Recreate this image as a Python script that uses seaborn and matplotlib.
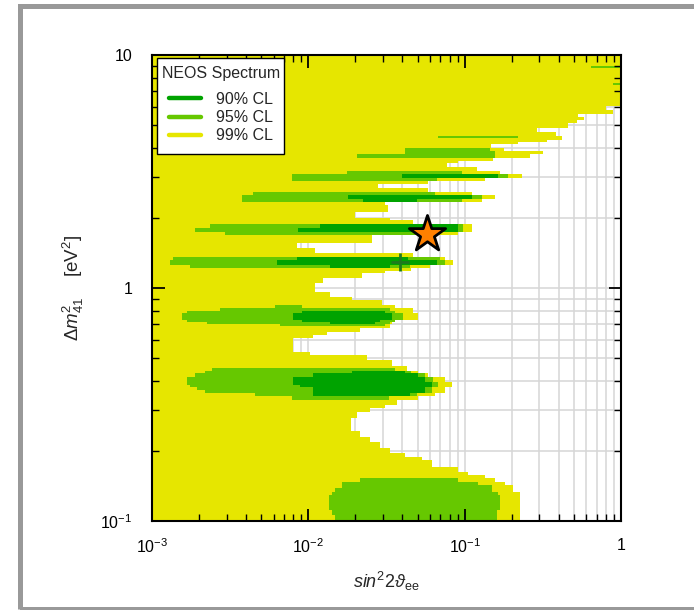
import numpy as np
import matplotlib
matplotlib.use("Agg")
import matplotlib.pyplot as plt
import seaborn as sns
import pandas as pd
from matplotlib.colors import ListedColormap
from matplotlib.lines import Line2D
from matplotlib.patches import Rectangle
from matplotlib.ticker import NullFormatter, LogLocator

sns.set_style("ticks")
plt.rcParams['font.family'] = ['Liberation Sans', 'DejaVu Sans']
plt.rcParams['mathtext.fontset'] = 'custom'
plt.rcParams['mathtext.rm'] = 'Liberation Sans'
plt.rcParams['mathtext.it'] = 'Liberation Sans:italic'
plt.rcParams['mathtext.bf'] = 'Liberation Sans:bold'
plt.rcParams['mathtext.fallback'] = 'stixsans'

# ---------------- data (log10 units) ----------------
# row edges in log10(dm2_41 / eV^2), from top (10 eV^2) to bottom (0.1 eV^2)
log_dm2_edges = [
    1.000, 0.953, 0.944, 0.880, 0.871, 0.781, 0.764, 0.747, 0.734, 0.721,
    0.708, 0.687, 0.670, 0.652, 0.644, 0.635, 0.627, 0.618, 0.601, 0.588,
    0.575, 0.558, 0.545, 0.536, 0.519, 0.502, 0.489, 0.472, 0.459, 0.446,
    0.429, 0.412, 0.399, 0.382, 0.369, 0.356, 0.326, 0.300, 0.292, 0.275,
    0.258, 0.240, 0.227, 0.193, 0.172, 0.150, 0.133, 0.120, 0.099, 0.086,
    0.073, 0.064, 0.043, 0.021, -0.017, -0.039, -0.052, -0.073, -0.086, -0.099,
    -0.107, -0.137, -0.146, -0.155, -0.163, -0.172, -0.189, -0.202, -0.215, -0.275,
    -0.288, -0.309, -0.335, -0.343, -0.356, -0.365, -0.382, -0.403, -0.416, -0.425,
    -0.438, -0.451, -0.464, -0.481, -0.502, -0.515, -0.532, -0.558, -0.614, -0.640,
    -0.661, -0.687, -0.708, -0.725, -0.738, -0.768, -0.790, -0.803, -0.815, -0.833,
    -0.846, -0.858, -0.876, -0.888, -0.953, -0.974, -1.000]

# 99% CL: allowed from the left edge up to this log10(sin^2 2theta) per row
cl99_right = [
    0.000, 0.000, 0.000, 0.000, 0.000, -0.096, -0.051, -0.275, -0.237, -0.281,
    -0.339, -0.537, -0.416, -0.377, -0.377, -0.473, -0.659, -0.831, -0.748, -0.499,
    -0.582, -0.819, -1.042, -1.113, -0.921, -0.774, -0.633, -0.870, -1.234, -1.554,
    -1.234, -0.953, -0.806, -0.889, -1.509, -1.490, -1.701, -1.477, -1.330, -0.953,
    -0.953, -1.042, -1.593, -2.072, -1.957, -1.330, -1.126, -1.074, -1.222, -1.343,
    -1.509, -1.657, -1.906, -1.957, -1.861, -1.721, -1.529, -1.446, -1.330, -1.330,
    -1.298, -1.465, -1.465, -1.477, -1.477, -1.669, -1.881, -1.970, -2.098, -1.989,
    -1.625, -1.465, -1.369, -1.369, -1.298, -1.234, -1.126, -1.081, -1.081, -1.126,
    -1.126, -1.190, -1.298, -1.433, -1.509, -1.605, -1.689, -1.727, -1.669, -1.605,
    -1.541, -1.477, -1.382, -1.273, -1.209, -1.042, -0.979, -0.870, -0.806, -0.742,
    -0.691, -0.691, -0.646, -0.646, -0.646, -0.646]

# 95% CL islands: row index, left, right (log10 sin^2 2theta)
cl95_rows = [1, 3, 13, 18, 19, 20, 25, 26, 27, 31, 32, 33, 39, 40, 41, 46, 47, 48,
             57, 58, 59, 60, 61, 62, 63, 73, 74, 75, 76, 77, 78, 79, 80, 81, 82,
             98, 99, 100, 101, 102, 103, 104, 105]
cl95_left = [-0.192, -0.051, -1.170, -1.382, -1.382, -1.689, -1.753, -2.104, -2.104,
             -2.354, -2.424, -2.424, -2.629, -2.725, -2.533, -2.866, -2.885, -2.757,
             -2.213, -2.565, -2.776, -2.808, -2.776, -2.648, -2.181,
             -2.616, -2.661, -2.725, -2.776, -2.776, -2.757, -2.712, -2.661, -2.341, -2.104,
             -1.669, -1.785, -1.785, -1.829, -1.849, -1.868, -1.849, -1.829]
cl95_right = [0.000, 0.000, -0.659, -0.838, -0.806, -0.806, -1.017, -0.723, -1.177,
              -1.190, -0.889, -1.017, -1.011, -1.011, -1.222, -1.158, -1.126, -1.350,
              -2.040, -1.477, -1.446, -1.394, -1.446, -1.477, -1.509,
              -1.446, -1.343, -1.254, -1.202, -1.170, -1.170, -1.209, -1.209, -1.305, -1.484,
              -1.042, -0.915, -0.825, -0.825, -0.787, -0.774, -0.793, -0.793]

# 90% CL islands
cl90_rows = [26, 32, 33, 39, 40, 46, 47, 48, 59, 60, 61, 62, 74, 75, 76, 77, 78, 79, 80, 81]
cl90_left = [-1.401, -1.746, -1.650, -1.925, -2.066, -2.072, -2.200, -1.861,
             -2.040, -2.098, -2.040, -1.861,
             -1.721, -1.970, -2.098, -2.098, -2.053, -1.970, -1.970, -1.970]
cl90_right = [-0.787, -0.953, -1.305, -1.042, -1.042, -1.362, -1.177, -1.477,
              -1.509, -1.465, -1.541, -1.573,
              -1.382, -1.298, -1.254, -1.209, -1.209, -1.254, -1.254, -1.350]

best_fit = pd.DataFrame({"s2t": [0.057], "dm2": [1.70]})
local_min = pd.DataFrame({"s2t": [0.0385], "dm2": [1.29]})

legend_title = "NEOS Spectrum"
legend_labels = ["90% CL", "95% CL", "99% CL"]
colors = {"99": "#E6E600", "95": "#66C800", "90": "#00A300"}

# ---------------- build the CL map ----------------
edges = np.array(log_dm2_edges)
xe = np.linspace(-3.0, 0.0, 1201)
xc = 0.5 * (xe[1:] + xe[:-1])
Z = np.zeros((len(edges) - 1, len(xc)))
for i, r in enumerate(cl99_right):
    Z[i, xc <= r] = 1
for i, l, r in zip(cl95_rows, cl95_left, cl95_right):
    Z[i, (xc >= l) & (xc <= r)] = 2
for i, l, r in zip(cl90_rows, cl90_left, cl90_right):
    Z[i, (xc >= l) & (xc <= r)] = 3
Zm = np.ma.masked_equal(Z, 0)

fig = plt.figure(figsize=(6.94, 6.10), dpi=100)
ax = fig.add_axes([152 / 694, 1 - 521 / 610, 469 / 694, 466 / 610])

ax.set_xscale("log")
ax.set_yscale("log")
ax.set_xlim(1e-3, 1)
ax.set_ylim(0.1, 10)
ax.set_xticks([1e-3, 1e-2, 1e-1, 1])
ax.set_xticklabels([r"$10^{-3}$", r"$10^{-2}$", r"$10^{-1}$", "1"])
ax.set_yticks([0.1, 1, 10])
ax.set_yticklabels([r"$10^{-1}$", "1", "10"])
ax.xaxis.set_minor_locator(LogLocator(base=10, subs=np.arange(2, 10)))
ax.yaxis.set_minor_locator(LogLocator(base=10, subs=np.arange(2, 10)))
ax.xaxis.set_minor_formatter(NullFormatter())
ax.yaxis.set_minor_formatter(NullFormatter())
ax.set_axisbelow(False)

# grid lines drawn beneath the CL map, ticks stay on top
xg = [t for t in list(ax.xaxis.get_majorticklocs()) + list(ax.xaxis.get_minorticklocs())
      if 1e-3 < t < 1]
yg = [t for t in list(ax.yaxis.get_majorticklocs()) + list(ax.yaxis.get_minorticklocs())
      if 0.1 < t < 10]
ax.vlines(xg, 0.1, 10, colors="#d6d6d6", linewidth=1.1, zorder=0.5)
ax.hlines(yg, 1e-3, 1, colors="#d6d6d6", linewidth=1.1, zorder=0.5)

cmap = ListedColormap([colors["99"], colors["95"], colors["90"]])
ax.pcolormesh(10 ** xe, 10 ** edges, Zm, cmap=cmap, vmin=0.5, vmax=3.5,
              shading="flat", antialiased=False, edgecolors="none", zorder=1)

sns.scatterplot(data=local_min, x="s2t", y="dm2", marker="+", s=170,
                color="#1f7a1f", linewidth=2.0, ax=ax, zorder=4, legend=False)
sns.scatterplot(data=best_fit, x="s2t", y="dm2", marker="*", s=750,
                color="#FF8000", edgecolor="black", linewidth=2.0, ax=ax,
                zorder=5, legend=False)

ax.set_xlim(1e-3, 1)
ax.set_ylim(0.1, 10)
ax.tick_params(which="both", direction="in", top=True, right=True, colors="black")
ax.tick_params(which="major", length=9, width=1.3, labelsize=11.5)
ax.tick_params(axis="x", which="major", pad=12)
ax.tick_params(axis="y", which="major", pad=14)
ax.tick_params(which="minor", length=5, width=1.0)
for s in ax.spines.values():
    s.set_linewidth(1.5)
    s.set_color("black")
    s.set_zorder(6)

ax.set_xlabel(r"$\mathit{sin}^{2}\mathrm{2}\vartheta_{\mathrm{ee}}$", fontsize=13, labelpad=10)
ax.set_ylabel(r"$\Delta \mathit{m}^{2}_{41}$    [eV$^{2}$]", fontsize=13.5, labelpad=10)

handles = [Line2D([0], [0], color=colors["90"], lw=3.2, solid_capstyle="round"),
           Line2D([0], [0], color=colors["95"], lw=3.2, solid_capstyle="round"),
           Line2D([0], [0], color=colors["99"], lw=3.2, solid_capstyle="round")]
leg = ax.legend(handles, legend_labels, title=legend_title, loc="upper left",
                bbox_to_anchor=(5 / 469, 1 - 6 / 466), borderaxespad=0,
                fontsize=11.5, title_fontsize=11.5, frameon=False,
                borderpad=0.3, labelspacing=0.2,
                handlelength=2.0, handletextpad=0.9)
leg._legend_box.sep = 8
leg.set_zorder(10)

# legend frame with a little extra room at the bottom, as in the original
fig.canvas.draw()
bb = leg.get_window_extent()
inv = fig.transFigure.inverted()
(fx0, fy0) = inv.transform((bb.x0, bb.y0 - 6))
(fx1, fy1) = inv.transform((bb.x1 - 1, bb.y1 + 3))
ax.add_patch(Rectangle((fx0, fy0), fx1 - fx0, fy1 - fy0, transform=fig.transFigure,
                       facecolor="white", edgecolor="black", linewidth=1.0,
                       zorder=9, clip_on=False))

fig.patches.append(Rectangle((19.5 / 694, 1 / 610), 1.2, 603 / 610,
                             transform=fig.transFigure, fill=False,
                             edgecolor="#999999", linewidth=3.6))

fig.savefig("out.png", dpi=100)
